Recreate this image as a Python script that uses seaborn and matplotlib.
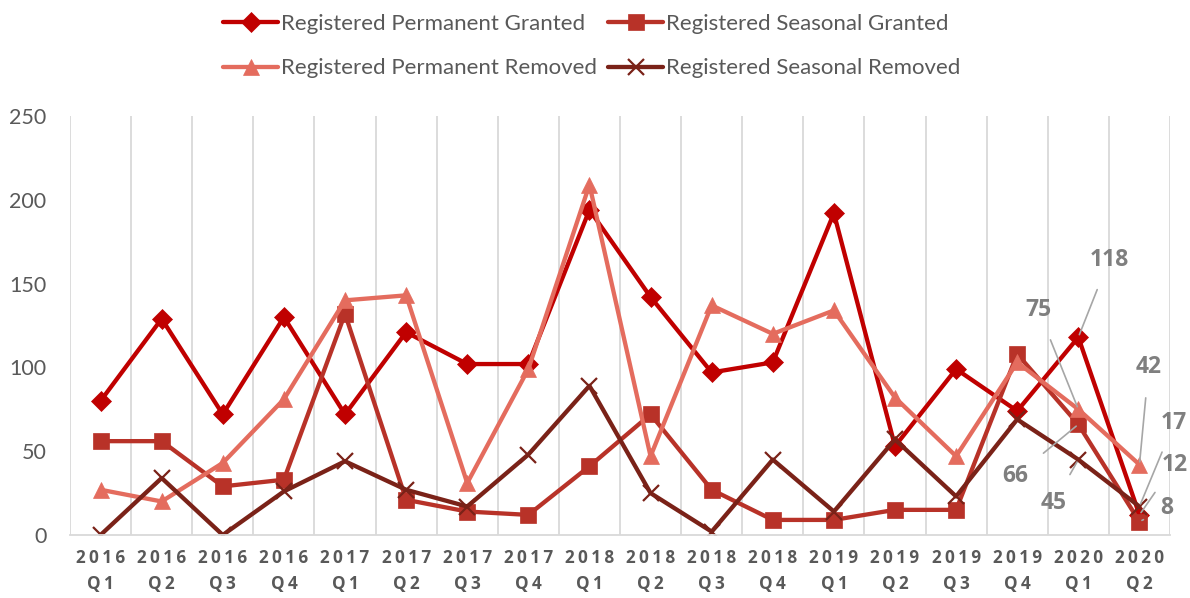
import numpy as np
import pandas as pd
import matplotlib
matplotlib.use('Agg')
import matplotlib.pyplot as plt
import seaborn as sb

# Quarter labels
years = ['2016'] * 4 + ['2017'] * 4 + ['2018'] * 4 + ['2019'] * 4 + ['2020'] * 2
quarters = ['Q1', 'Q2', 'Q3', 'Q4'] * 4 + ['Q1', 'Q2']

# Series values
perm_granted = [80, 129, 72, 130, 72, 121, 102, 102, 194, 142, 97, 103, 192, 53, 99, 74, 118, 12]
seas_granted = [56, 56, 29, 33, 132, 21, 14, 12, 41, 72, 27, 9, 9, 15, 15, 108, 66, 8]
perm_removed = [27, 20, 43, 81, 140, 143, 31, 99, 209, 47, 137, 120, 134, 82, 47, 103, 75, 42]
seas_removed = [0, 34, 0, 26, 44, 27, 17, 48, 89, 25, 2, 45, 14, 57, 23, 69, 45, 17]

series_names = ['Registered Permanent Granted', 'Registered Seasonal Granted',
                'Registered Permanent Removed', 'Registered Seasonal Removed']
series_values = [perm_granted, seas_granted, perm_removed, seas_removed]
colours = ['#C00000', '#B83228', '#E46C5E', '#7A2218']
markers = ['D', 's', '^', 'x']
sizes = [10, 12, 12, 12]

# Long form table for seaborn
rows = []
for name, vals in zip(series_names, series_values):
    for i, v in enumerate(vals):
        rows.append({'idx': i, 'value': v, 'series': name})
data = pd.DataFrame(rows)

sb.set_style('white')
plt.rcParams['font.family'] = ['Lato', 'DejaVu Sans']
bold_font = ['Open Sans', 'DejaVu Sans']

fig = plt.figure(figsize=(11.9, 5.98), dpi=100)
ax = fig.add_axes([70 / 1190, 1 - 535 / 598, 1100 / 1190, 419 / 598])

for name, col, mk, ms in zip(series_names, colours, markers, sizes):
    sub = data[data['series'] == name]
    sb.lineplot(data=sub, x='idx', y='value', ax=ax, color=col, lw=3.1,
                marker=mk, markersize=ms, markeredgecolor=col,
                markeredgewidth=1.6 if mk == 'x' else 0.5, label=name, sort=False)

ax.set_xlim(-0.5, len(years) - 0.5)
ax.set_ylim(0, 250)
ax.set_yticks(range(0, 251, 50))
ax.set_xticks(range(len(years)))
sp = '\u2009'
ax.set_xticklabels([sp.join(y) + '\n' + sp.join(q) for y, q in zip(years, quarters)],
                   fontsize=12.3, fontweight='bold', color='#595959', linespacing=1.55,
                   family=bold_font)
ax.tick_params(axis='y', labelsize=15.5, colors='#595959', length=0, pad=17)
ax.tick_params(axis='x', length=0, pad=10)
ax.set_xlabel('')
ax.set_ylabel('')

# Vertical gridlines between quarters
for b in np.arange(-0.5, len(years), 1.0):
    ax.axvline(b, color='#D9D9D9', lw=1.3, zorder=0)
for s in ['top', 'right', 'left']:
    ax.spines[s].set_visible(False)
ax.spines['bottom'].set_color('#D9D9D9')
ax.spines['bottom'].set_linewidth(1.3)

ax.get_legend().remove()
handles, labels = ax.get_legend_handles_labels()
order = [0, 2, 1, 3]
fig.legend([handles[i] for i in order], [labels[i] for i in order],
           loc='upper center', bbox_to_anchor=(0.497, 1.01), ncol=2, frameon=False,
           fontsize=16, labelcolor='#595959', handlelength=2.5, handletextpad=0.1,
           columnspacing=0.5, labelspacing=1.1)

# Data labels on the last two quarters
labels_pos = [
    (16, 118, '118', 16.5, 164),
    (16, 75, '75', 15.35, 134),
    (16, 66, '66', 14.97, 35),
    (16, 45, '45', 15.6, 19),
    (17, 42, '42', 17.15, 100),
    (17, 17, '17', 17.57, 67),
    (17, 12, '12', 17.57, 42),
    (17, 8, '8', 17.45, 16),
]
for px, py, txt, tx, ty in labels_pos:
    ax.annotate(txt, xy=(px, py), xytext=(tx, ty), ha='center', va='center',
                fontsize=16.5, fontweight='bold', color='#7F7F7F', annotation_clip=False,
                family=bold_font,
                arrowprops=dict(arrowstyle='-', color='#A6A6A6', lw=1.2,
                                shrinkA=11, shrinkB=2))

plt.savefig('out.png', dpi=100)
